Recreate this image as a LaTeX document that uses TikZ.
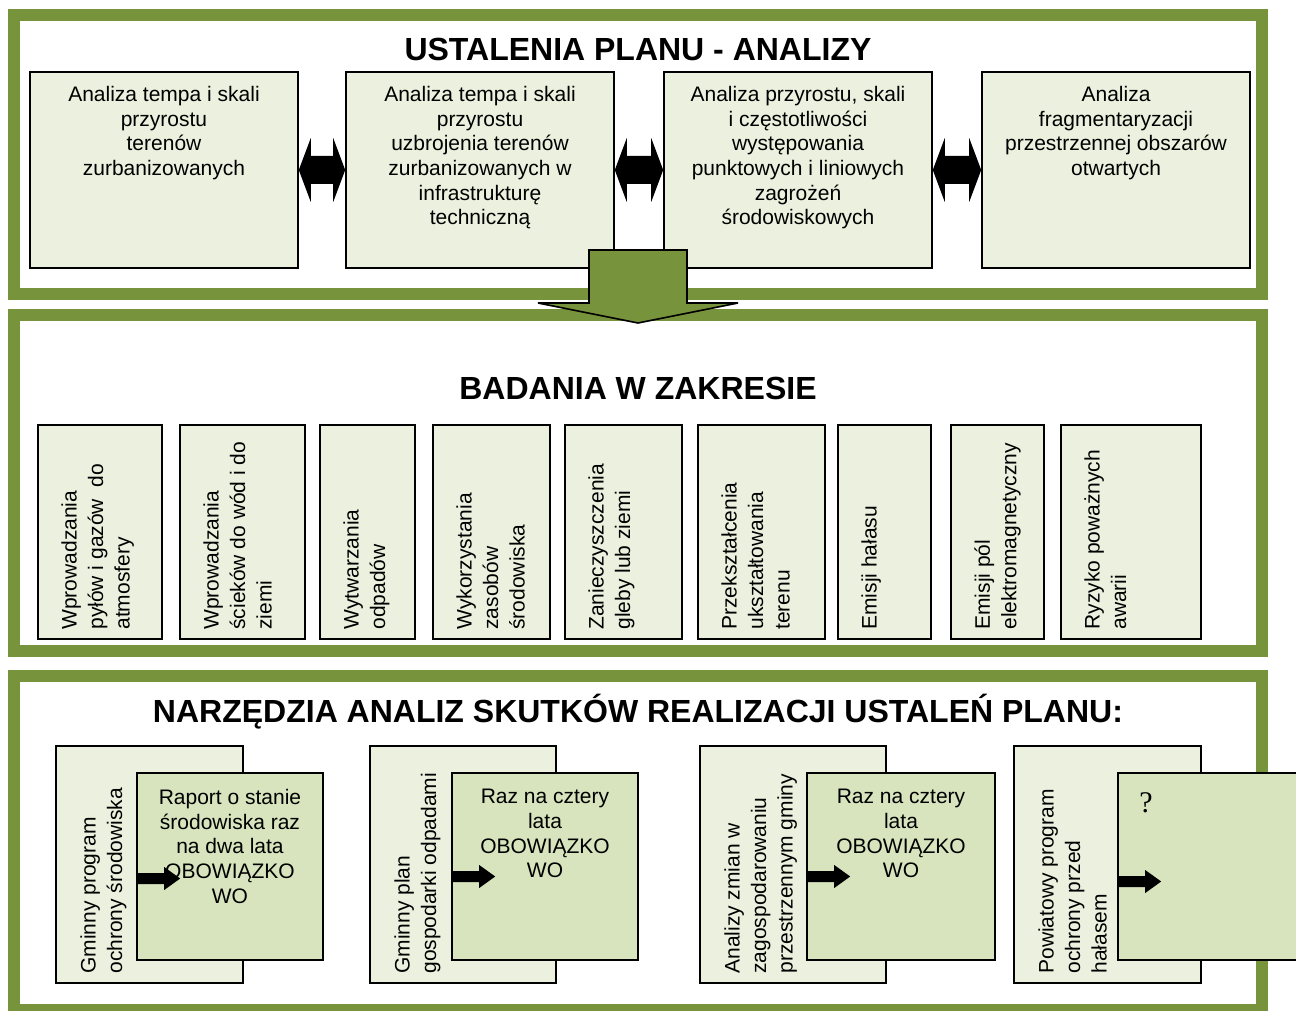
\documentclass[tikz,border=0pt]{standalone}
\usepackage{fontspec}
\setmainfont{Liberation Sans}
\newfontfamily\qfont{Liberation Serif}
\usetikzlibrary{calc}
\definecolor{frgreen}{HTML}{77933C}
\definecolor{lightg}{HTML}{EBF1DE}
\definecolor{midg}{HTML}{D7E4BD}
\tikzset{
  frame/.style={draw=frgreen, line width=12pt},
  tbox/.style={draw=black, line width=1.6pt, fill=lightg, inner sep=0pt},
  fbox/.style={draw=black, line width=1.6pt, fill=midg, inner sep=0pt},
  htext/.style={font=\fontsize{21}{24.6}\selectfont, align=center, inner sep=0pt, anchor=north},
  vtext/.style={font=\fontsize{21}{26.5}\selectfont, align=left, inner sep=0pt, rotate=90, anchor=north west},
  title/.style={font=\fontsize{32}{38}\selectfont\bfseries, anchor=base, inner sep=0pt},
  blockarrow/.style={fill=black},
  bigarrow/.style={fill=frgreen, draw=black, line width=1.6pt, line join=miter}
}
\begin{document}
\begin{tikzpicture}[x=1pt, y=-1pt]
\useasboundingbox[fill=white] (0,0) rectangle (1296,1011);
\begin{scope}
\clip (0,0) rectangle (1296,1011);
% frames
\draw[frame] (14,15) rectangle (1262,294);
\draw[frame] (14,315) rectangle (1262,651);
\draw[frame] (14,676) rectangle (1262,1010);
% titles
\node[title] (ttl1) at (638,61) {USTALENIA PLANU - ANALIZY};
\node[title] (ttl2) at (638,399) {BADANIA W ZAKRESIE};
\node[title] (ttl3) at (638,722) {NARZĘDZIA ANALIZ SKUTKÓW REALIZACJI USTALEŃ PLANU:};
% top row boxes
\node[tbox, minimum width=268pt, minimum height=196pt] (b1) at (164,170) {};
\node[tbox, minimum width=268pt, minimum height=196pt] (b2) at (480,170) {};
\node[tbox, minimum width=268pt, minimum height=196pt] (b3) at (798,170) {};
\node[tbox, minimum width=268pt, minimum height=196pt] (b4) at (1116,170) {};
\node[htext] (t1) at ([yshift=-15pt]b1.north) {Analiza tempa i skali\\przyrostu\\terenów\\zurbanizowanych};
\node[htext] (t2) at ([yshift=-15pt]b2.north) {Analiza tempa i skali\\przyrostu\\uzbrojenia terenów\\zurbanizowanych w\\infrastrukturę\\techniczną};
\node[htext] (t3) at ([yshift=-15pt]b3.north) {Analiza przyrostu, skali\\i częstotliwości\\występowania\\punktowych i liniowych\\zagrożeń\\środowiskowych};
\node[htext] (t4) at ([yshift=-15pt]b4.north) {Analiza\\fragmentaryzacji\\przestrzennej obszarów\\otwartych};
% double arrows
\foreach \pa/\pb in {b1/b2, b2/b3, b3/b4}{
  \fill[blockarrow] (\pa.east) -- ($(\pa.east)+(12,-32)$) -- ($(\pa.east)+(12,-14)$) -- ($(\pb.west)+(-12,-14)$) -- ($(\pb.west)+(-12,-32)$) -- (\pb.west) -- ($(\pb.west)+(-12,32)$) -- ($(\pb.west)+(-12,14)$) -- ($(\pa.east)+(12,14)$) -- ($(\pa.east)+(12,32)$) -- cycle;
}
% big down arrow
\coordinate (dtip) at (638,323);
\draw[bigarrow] (589,250) -- (687,250) -- (687,303) -- (738,303) -- (dtip) -- (538,303) -- (589,303) -- cycle;
% second row boxes
\node[tbox, minimum width=124pt, minimum height=214pt] (r1) at (100,532) {};
\node[tbox, minimum width=125pt, minimum height=214pt] (r2) at (242.5,532) {};
\node[tbox, minimum width=95pt, minimum height=214pt] (r3) at (367.5,532) {};
\node[tbox, minimum width=117pt, minimum height=214pt] (r4) at (491.5,532) {};
\node[tbox, minimum width=117pt, minimum height=214pt] (r5) at (623.5,532) {};
\node[tbox, minimum width=127pt, minimum height=214pt] (r6) at (761.5,532) {};
\node[tbox, minimum width=93pt, minimum height=214pt] (r7) at (884.5,532) {};
\node[tbox, minimum width=93pt, minimum height=214pt] (r8) at (997.5,532) {};
\node[tbox, minimum width=140pt, minimum height=214pt] (r9) at (1131,532) {};
\node[vtext] (v1) at ([xshift=24pt,yshift=10pt]r1.south west) {Wprowadzania\\pyłów i gazów\ \ do\\atmosfery};
\node[vtext] (v2) at ([xshift=24pt,yshift=10pt]r2.south west) {Wprowadzania\\ścieków do wód i do\\ziemi};
\node[vtext] (v3) at ([xshift=24pt,yshift=10pt]r3.south west) {Wytwarzania\\odpadów};
\node[vtext] (v4) at ([xshift=24pt,yshift=10pt]r4.south west) {Wykorzystania\\zasobów\\środowiska};
\node[vtext] (v5) at ([xshift=24pt,yshift=10pt]r5.south west) {Zanieczyszczenia\\gleby lub ziemi};
\node[vtext] (v6) at ([xshift=24pt,yshift=10pt]r6.south west) {Przekształcenia\\ukształtowania\\terenu};
\node[vtext] (v7) at ([xshift=24pt,yshift=10pt]r7.south west) {Emisji hałasu};
\node[vtext] (v8) at ([xshift=24pt,yshift=10pt]r8.south west) {Emisji pól\\elektromagnetyczny};
\node[vtext] (v9) at ([xshift=24pt,yshift=10pt]r9.south west) {Ryzyko poważnych\\awarii};
% bottom groups: back boxes
\node[tbox, minimum width=187pt, minimum height=237pt] (g1b) at (149.5,864.5) {};
\node[tbox, minimum width=186pt, minimum height=237pt] (g2b) at (463,864.5) {};
\node[tbox, minimum width=186pt, minimum height=237pt] (g3b) at (793,864.5) {};
\node[tbox, minimum width=187pt, minimum height=237pt] (g4b) at (1107.5,864.5) {};
\node[vtext] (w1) at ([xshift=25pt,yshift=10pt]g1b.south west) {Gminny program\\ochrony środowiska};
\node[vtext] (w2) at ([xshift=25pt,yshift=10pt]g2b.south west) {Gminny plan\\gospodarki odpadami};
\node[vtext] (w3) at ([xshift=25pt,yshift=10pt]g3b.south west) {Analizy zmian w\\zagospodarowaniu\\przestrzennym gminy};
\node[vtext] (w4) at ([xshift=25pt,yshift=10pt]g4b.south west) {Powiatowy program\\ochrony przed\\hałasem};
% front boxes
\node[fbox, minimum width=186pt, minimum height=187pt] (g1f) at (230,866.5) {};
\node[fbox, minimum width=186pt, minimum height=187pt] (g2f) at (545,866.5) {};
\node[fbox, minimum width=188pt, minimum height=187pt] (g3f) at (901,866.5) {};
\node[fbox, minimum width=192pt, minimum height=187pt] (g4f) at (1214,866.5) {};
\node[htext] (f1) at ([yshift=-17pt]g1f.north) {Raport o stanie\\środowiska raz\\na dwa lata\\OBOWIĄZKO\\WO};
\node[htext] (f2) at ([yshift=-17pt]g2f.north) {Raz na cztery\\lata\\OBOWIĄZKO\\WO};
\node[htext] (f3) at ([yshift=-17pt]g3f.north) {Raz na cztery\\lata\\OBOWIĄZKO\\WO};
\node[htext, anchor=north west, font=\qfont\fontsize{30}{34}\selectfont] (f4) at ([xshift=22pt,yshift=-20pt]g4f.north west) {?};
% small arrows
\foreach \nn/\oo in {g1f/6.5, g2f/4.5, g3f/4.5, g4f/9.5}{
  \fill[blockarrow] ($(\nn.west)+(0,\oo)$) -- ++(28,0) -- ++(0,-6) -- ++(16,11.5) -- ++(-16,11.5) -- ++(0,-6) -- ++(-28,0) -- cycle;
}
\end{scope}
\end{tikzpicture}
\end{document}
